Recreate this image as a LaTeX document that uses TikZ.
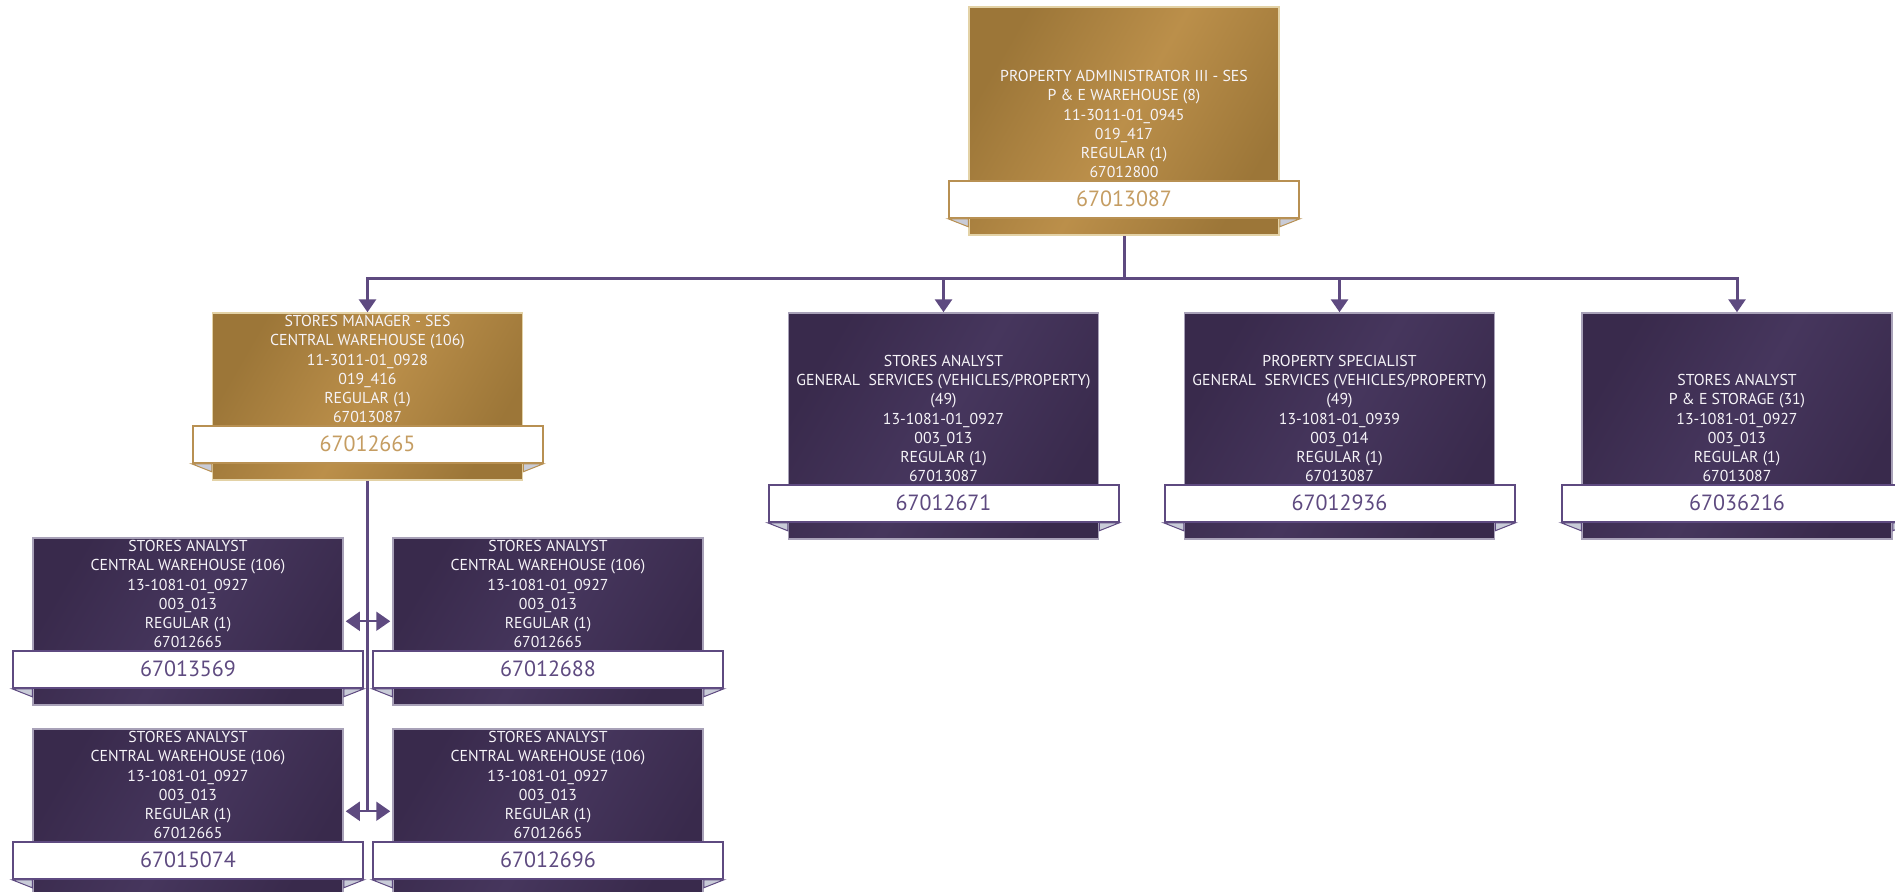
\documentclass[tikz,border=0pt]{standalone}
\usepackage{fontspec}
\setmainfont{PT Sans}
\usetikzlibrary{arrows.meta,positioning,calc}
\definecolor{golddark}{HTML}{9C7638}
\definecolor{goldlight}{HTML}{BB8F4A}
\definecolor{goldrim}{HTML}{E3D2A6}
\definecolor{goldline}{HTML}{B89052}
\definecolor{goldnum}{HTML}{C59D62}
\definecolor{plumdark}{HTML}{392A4C}
\definecolor{plumlight}{HTML}{46365D}
\definecolor{plumrim}{HTML}{A8A1B8}
\definecolor{plumline}{HTML}{5E4A80}
\definecolor{foldgray}{HTML}{C9CCD8}
\definecolor{cardwhite}{HTML}{F6F4F8}
\tikzset{
  goldbox/.style={draw=goldrim, line width=.75pt, left color=golddark,
    right color=golddark, middle color=goldlight, shading angle=60,
    minimum width=155pt, inner sep=0pt},
  plumbox/.style={draw=plumrim, line width=.75pt, left color=plumdark,
    right color=plumdark, middle color=plumlight, shading angle=60,
    minimum width=155pt, inner sep=0pt},
  goldtag/.style={draw=goldline, line width=1pt, fill=white, text=goldnum,
    minimum width=175pt, minimum height=18.5pt, inner sep=0pt,
    font=\fontsize{11}{13}\selectfont},
  plumtag/.style={draw=plumline, line width=1pt, fill=white, text=plumline,
    minimum width=175pt, minimum height=18.5pt, inner sep=0pt,
    font=\fontsize{11}{13}\selectfont},
  goldfold/.style={fill=foldgray, draw=goldline, line width=.5pt},
  plumfold/.style={fill=foldgray, draw=plumline, line width=.5pt},
  cardtext/.style={anchor=south, align=center, inner sep=0pt, text depth=0pt,
    text=cardwhite, font=\fontsize{7.9}{9.55}\selectfont},
  link/.style={draw=plumline, line width=1.5pt, -{Triangle[length=6.5pt,width=8.5pt]}},
  plainlink/.style={draw=plumline, line width=1.5pt},
  dlink/.style={draw=plumline, line width=1pt, shorten <=1pt, shorten >=1pt,
    {Triangle[length=7pt,width=9.5pt]}-{Triangle[length=7pt,width=9.5pt]}}
}
% name, colour, at, height, lines, number
\newcommand{\poscard}[6]{
  \node[#2box, minimum height=#4] (#1) at #3 {};
  \node[#2tag] (#1tag) at ($(#1.south)+(0,-36.5)$) {#6};
  \filldraw[#2fold] (#1tag.south west) -- (#1tag.south west -| #1.west) -- ++(0,8) -- cycle;
  \filldraw[#2fold] (#1tag.south east) -- (#1tag.south east -| #1.east) -- ++(0,8) -- cycle;
  \node[cardtext] (#1txt) at ($(#1tag.north)+(0,-2)$) {#5};
}
\begin{document}
\begin{tikzpicture}[x=.5pt, y=-.5pt]
  \useasboundingbox (0,0) rectangle (1895,891);

  \poscard{pa}{gold}{(1124,121)}{114pt}{PROPERTY ADMINISTRATOR III - SES\\P \& E WAREHOUSE (8)\\11-3011-01\_0945\\019\_417\\REGULAR (1)\\67012800}{67013087}

  \poscard{mgr}{gold}{(367.5,396.5)}{83.5pt}{STORES MANAGER - SES\\CENTRAL WAREHOUSE (106)\\11-3011-01\_0928\\019\_416\\REGULAR (1)\\67013087}{67012665}
  \poscard{sa1}{plum}{(943.5,426)}{113pt}{STORES ANALYST\\GENERAL\ \ SERVICES (VEHICLES/PROPERTY)\\(49)\\13-1081-01\_0927\\003\_013\\REGULAR (1)\\67013087}{67012671}
  \poscard{ps}{plum}{(1339.5,426)}{113pt}{PROPERTY SPECIALIST\\GENERAL\ \ SERVICES (VEHICLES/PROPERTY)\\(49)\\13-1081-01\_0939\\003\_014\\REGULAR (1)\\67013087}{67012936}
  \poscard{sa2}{plum}{(1737,426)}{113pt}{STORES ANALYST\\P \& E STORAGE (31)\\13-1081-01\_0927\\003\_013\\REGULAR (1)\\67013087}{67036216}

  \poscard{an1}{plum}{(188,621.5)}{83.5pt}{STORES ANALYST\\CENTRAL WAREHOUSE (106)\\13-1081-01\_0927\\003\_013\\REGULAR (1)\\67012665}{67013569}
  \poscard{an2}{plum}{(548,621.5)}{83.5pt}{STORES ANALYST\\CENTRAL WAREHOUSE (106)\\13-1081-01\_0927\\003\_013\\REGULAR (1)\\67012665}{67012688}
  \poscard{an3}{plum}{(188,812.5)}{83.5pt}{STORES ANALYST\\CENTRAL WAREHOUSE (106)\\13-1081-01\_0927\\003\_013\\REGULAR (1)\\67012665}{67015074}
  \poscard{an4}{plum}{(548,812.5)}{83.5pt}{STORES ANALYST\\CENTRAL WAREHOUSE (106)\\13-1081-01\_0927\\003\_013\\REGULAR (1)\\67012665}{67012696}

  % reporting lines
  \coordinate (bus) at ($(pa.south)+(0,43)$);
  \draw[plainlink] (pa.south) -- (bus);
  \foreach \kid in {mgr,sa1,ps,sa2}
    \draw[link] (bus) -| (\kid.north);

  \coordinate (mgrend) at ($(mgr.south |- an3.north)+(0,84)$);
  \draw[plainlink] (mgr.south) -- (mgrend);
  \draw[dlink] ($(an1.north east)+(0,84)$) -- ($(an2.north west)+(0,84)$);
  \draw[dlink] ($(an3.north east)+(0,83)$) -- ($(an4.north west)+(0,83)$);
\end{tikzpicture}
\end{document}
